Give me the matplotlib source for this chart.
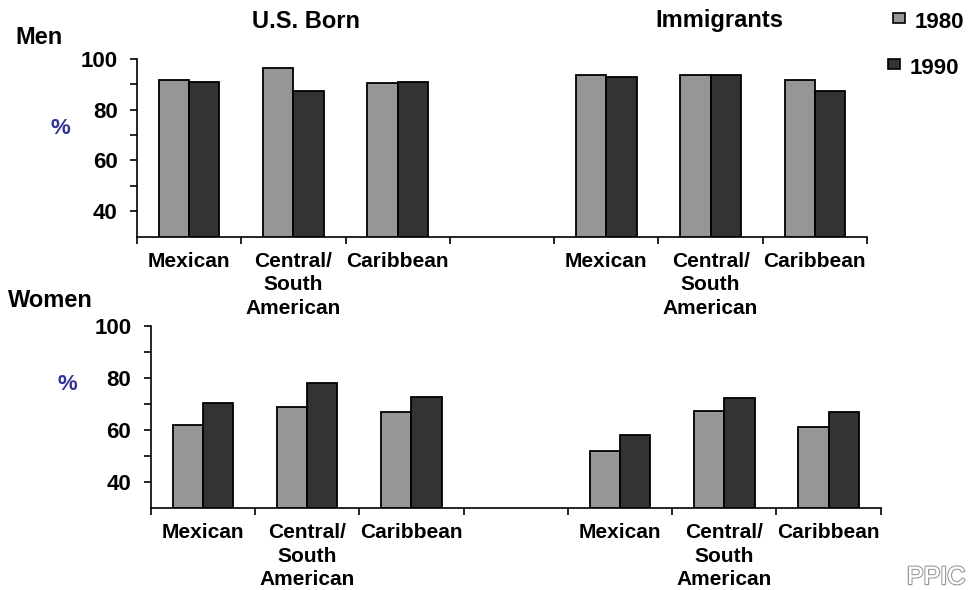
import matplotlib.pyplot as plt
import matplotlib.patheffects as pe
from matplotlib.patches import Rectangle

plt.rcParams['font.family'] = ['Liberation Sans', 'DejaVu Sans']
plt.rcParams['font.weight'] = 'bold'

# categories (same three groups for U.S. born and immigrants)
groups = ['Mexican', 'Central/\nSouth\nAmerican', 'Caribbean']
years = ['1980', '1990']

# share (%) by group: U.S. born, then immigrants
men_us_1980 = [91.6, 96.3, 90.4]
men_us_1990 = [91.1, 87.5, 91.1]
men_imm_1980 = [93.7, 93.7, 91.6]
men_imm_1990 = [92.9, 93.7, 87.5]

women_us_1980 = [61.9, 69.0, 66.8]
women_us_1990 = [70.4, 78.0, 72.7]
women_imm_1980 = [52.0, 67.2, 61.0]
women_imm_1990 = [58.0, 72.3, 66.8]

col_1980 = '#969696'
col_1990 = '#333333'
navy = '#333399'

fig = plt.figure(figsize=(9.72, 5.90), dpi=100)
W, H = 972, 590


def draw_panel(ax, v80_us, v90_us, v80_imm, v90_imm):
    slots = [0.5, 1.5, 2.5, 4.5, 5.5, 6.5]   # slot 3 stays empty
    v80 = v80_us + v80_imm
    v90 = v90_us + v90_imm
    w = 0.29
    ax.bar([s - w / 2 for s in slots], [v - 30 for v in v80], w, bottom=30,
           color=col_1980, edgecolor='black', linewidth=1.3, zorder=3)
    ax.bar([s + w / 2 for s in slots], [v - 30 for v in v90], w, bottom=30,
           color=col_1990, edgecolor='black', linewidth=1.3, zorder=3)
    ax.set_xlim(0, 7)
    ax.set_ylim(30, 100)
    ax.spines['top'].set_visible(False)
    ax.spines['right'].set_visible(False)
    for s in ('left', 'bottom'):
        ax.spines[s].set_linewidth(1.2)
    ax.set_yticks([40, 60, 80, 100])
    ax.set_yticks([50, 70, 90], minor=True)
    ax.tick_params(axis='y', which='both', length=5, width=1.2, pad=9,
                   labelsize=16)
    ax.set_xticks(range(8))
    ax.set_xticklabels([])
    ax.set_xticks(slots, minor=True)
    ax.set_xticklabels(groups + groups, minor=True, fontsize=15,
                       fontweight='bold', linespacing=1.3)
    ax.tick_params(axis='x', which='major', length=5, width=1.2)
    ax.tick_params(axis='x', which='minor', length=0, pad=11)
    for lab in ax.get_yticklabels():
        lab.set_fontweight('bold')


ax_men = fig.add_axes([137 / W, 1 - 236.5 / H, 730 / W, 177.5 / H])
draw_panel(ax_men, men_us_1980, men_us_1990, men_imm_1980, men_imm_1990)

ax_women = fig.add_axes([150.7 / W, 1 - 508 / H, 730 / W, 182 / H])
draw_panel(ax_women, women_us_1980, women_us_1990, women_imm_1980, women_imm_1990)

# headings
fig.text(306 / W, 1 - 21 / H, 'U.S. Born', ha='center', va='center', fontsize=17)
fig.text(719 / W, 1 - 21 / H, 'Immigrants', ha='center', va='center', fontsize=17)
fig.text(15 / W, 1 - 37 / H, 'Men', ha='left', va='center', fontsize=17)
fig.text(8 / W, 1 - 301 / H, 'Women', ha='left', va='center', fontsize=17)
fig.text(60 / W, 1 - 128 / H, '%', ha='center', va='center', fontsize=16, color=navy)
fig.text(67 / W, 1 - 385 / H, '%', ha='center', va='center', fontsize=16, color=navy)

# legend
fig.patches.append(Rectangle((893 / W, 1 - 23 / H), 12 / W, 10 / H, transform=fig.transFigure,
                             facecolor=col_1980, edgecolor='black', linewidth=1.2))
fig.patches.append(Rectangle((888 / W, 1 - 69 / H), 12 / W, 10 / H, transform=fig.transFigure,
                             facecolor=col_1990, edgecolor='black', linewidth=1.2))
fig.text(915 / W, 1 - 23 / H, years[0], ha='left', va='center', fontsize=16)
fig.text(910 / W, 1 - 68 / H, years[1], ha='left', va='center', fontsize=16)

# watermark
fig.text(936 / W, 1 - 577 / H, 'PPIC', ha='center', va='center', fontsize=18,
         fontweight='normal', color='white',
         path_effects=[pe.withStroke(linewidth=1.8, foreground='#999999'), pe.Normal()])

fig.savefig('out.png', dpi=100)
